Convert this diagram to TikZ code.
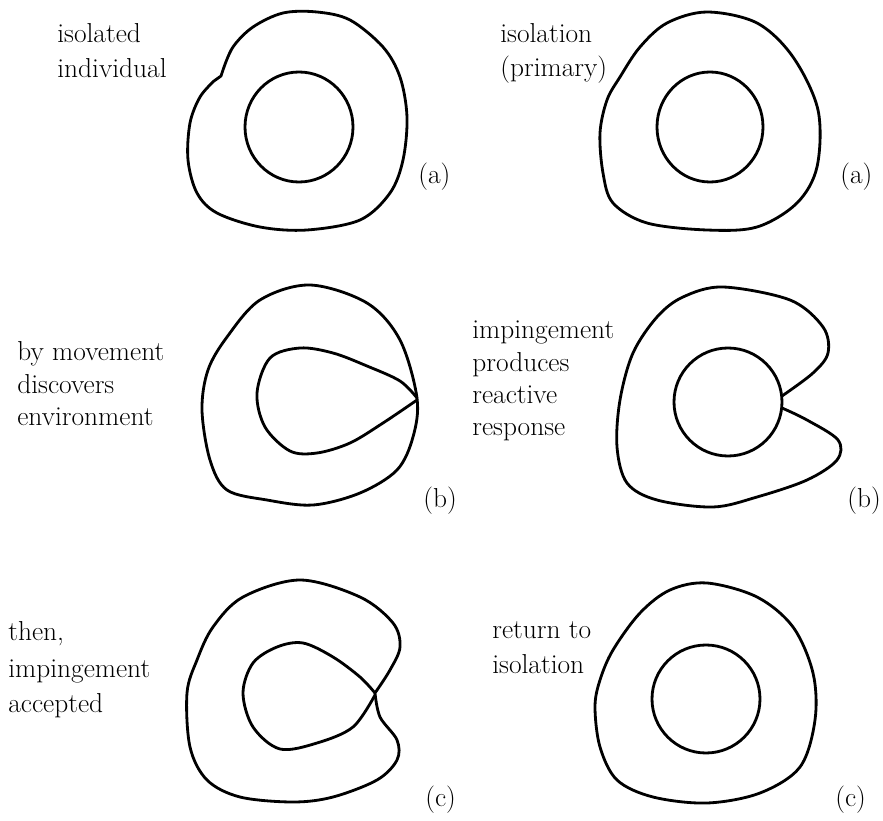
\documentclass[tikz,border=0pt]{standalone}
\begin{document}
\begin{tikzpicture}[x=0.02cm,y=-0.02cm,
  outline/.style={line width=1.6pt,line join=round,line cap=round},
  caption/.style={anchor=base west,inner sep=0pt,font=\fontsize{15.6}{18}\selectfont},
  tag/.style={anchor=base west,inner sep=0pt,font=\fontsize{15.6}{18}\selectfont}]
\useasboundingbox (0,0) rectangle (883,821);

% ---------- left column (a): isolated individual ----------
\draw[outline] plot[smooth,tension=0.55] coordinates {
  (223,70) (233,47) (253,27) (283,13) (317,12) (350,20) (383,47) (400,77)
  (407,117) (403,160) (390,193) (360,220) (307,230) (260,227) (217,213)
  (197,193) (188,160) (190,123) (200,97) (214,81)} -- (221,76) -- (223,70);
\draw[outline] (299,127) ellipse [x radius=54,y radius=55];
\node[caption] (t1a) at (57,43) {isolated};
\node[caption] (t1b) at (57,78) {individual};
\node[tag] (l1) at (418,184) {(a)};

% ---------- right column (a): primary isolation ----------
\draw[outline] plot[smooth cycle,tension=0.55] coordinates {
  (707,12) (757,23) (793,57) (818,110) (817,167) (797,203) (757,227)
  (707,230) (647,223) (613,203) (603,173) (600,133) (607,100) (620,77)
  (640,47) (667,23)};
\draw[outline] (710,127) ellipse [x radius=53,y radius=55];
\node[caption] (t2a) at (500,43) {isolation};
\node[caption] (t2b) at (500,77) {(primary)};
\node[tag] (l2) at (840,184) {(a)};

% ---------- left column (b): movement meets the environment ----------
\draw[outline] plot[smooth cycle,tension=0.55] coordinates {
  (310,285) (367,303) (400,340) (417,398) (413,437) (397,470) (360,493)
  (313,505) (267,500) (227,490) (210,460) (202,410) (208,370) (227,337)
  (260,300)};
\draw[outline] plot[smooth,tension=0.55] coordinates {
  (417,398) (400,381) (367,366) (333,353) (300,348) (270,358) (257,393)
  (265,427) (290,451) (317,453) (350,443) (383,423) (417,400)};
\node[caption] (t3a) at (17,360) {by movement};
\node[caption] (t3b) at (17,393) {discovers};
\node[caption] (t3c) at (17,425) {environment};
\node[tag] (l3) at (423,507) {(b)};

% ---------- right column (b): impingement and reaction ----------
\draw[outline] plot[smooth,tension=0.55] coordinates {
  (782,396) (813,373) (828,353) (823,327) (790,300) (723,287) (683,297)
  (657,317) (633,353) (620,400) (617,447) (627,483) (657,500) (713,507)
  (757,497) (807,480) (837,460) (838,440) (807,420) (782,408)};
\draw[outline] (728,402) circle [radius=54];
\node[caption] (t4a) at (472,338) {impingement};
\node[caption] (t4b) at (472,371) {produces};
\node[caption] (t4c) at (472,403) {reactive};
\node[caption] (t4d) at (472,435) {response};
\node[tag] (l4) at (847,507) {(b)};

% ---------- left column (c): impingement accepted ----------
\draw[outline] plot[smooth,tension=0.55] coordinates {
  (375,693) (390,670) (400,647) (393,623) (360,597) (300,580) (243,597)
  (213,627) (197,660) (187,693) (190,747) (207,780) (240,797) (293,802)
  (333,797) (377,780) (397,760) (397,740) (380,717) (375,693)};
\draw[outline] plot[smooth,tension=0.55] coordinates {
  (375,693) (360,677) (333,657) (303,643) (277,647) (253,663) (243,693)
  (253,727) (280,749) (317,743) (353,727) (375,695)};
\node[caption] (t5a) at (8,640) {then,};
\node[caption] (t5b) at (8,677) {impingement};
\node[caption] (t5c) at (8,712) {accepted};
\node[tag] (l5) at (425,806) {(c)};

% ---------- right column (c): return to isolation ----------
\draw[outline] plot[smooth cycle,tension=0.55] coordinates {
  (707,583) (757,597) (793,627) (813,673) (815,720) (800,767) (760,793)
  (707,803) (653,797) (617,780) (600,747) (595,707) (600,680) (613,650)
  (640,613) (670,590)};
\draw[outline] (706,699) circle [radius=54];
\node[caption] (t6a) at (492,638) {return to};
\node[caption] (t6b) at (492,673) {isolation};
\node[tag] (l6) at (835,806) {(c)};
\end{tikzpicture}
\end{document}
